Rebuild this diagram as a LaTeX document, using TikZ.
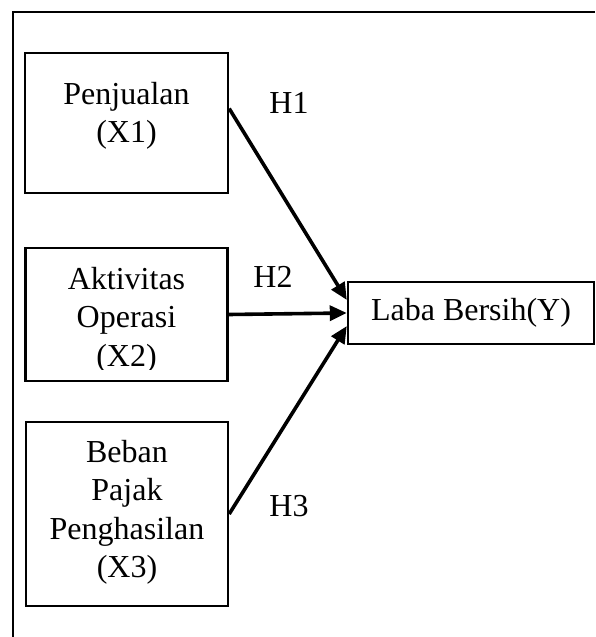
\documentclass[tikz,border=0pt]{standalone}
\usepackage{fontspec}
\setmainfont{Liberation Serif}
\usepackage{tikz}
\usetikzlibrary{positioning, arrows.meta}

\begin{document}
\begin{tikzpicture}[x=1pt,y=-1pt,
   var/.style={draw,line width=2.4pt,rectangle,inner sep=0pt},
   vartext/.style={align=center,inner sep=0pt,font=\fontsize{32}{38.5}\selectfont},
   hyp/.style={inner sep=0pt,font=\fontsize{32}{38.5}\selectfont},
   hpath/.style={line width=3.6pt,-{Triangle[length=17pt,width=15pt]}}]
\useasboundingbox (0,0) rectangle (595,637);
\draw[line width=1.8pt] (595,12) -- (13,12) -- (13,637);
\node[var,minimum width=203pt,minimum height=140pt] (x1) at (126.5,123) {};
\node[var,minimum width=202pt,minimum height=133pt] (x2) at (126.5,314.5) {};
\node[var,minimum width=202pt,minimum height=184pt] (x3) at (127,514) {};
\node[var,minimum width=246pt,minimum height=62pt,font=\fontsize{32}{38.5}\selectfont] (y) at (471,313) {Laba Bersih(Y)};
\node[vartext,below=30pt of x1.north] (x1text) {Penjualan\\(X1)};
\begin{scope}
\clip (0,0) rectangle (595,369);
\node[vartext,below=20pt of x2.north] (x2text) {Aktivitas\\Operasi\\(X2)};
\end{scope}
\node[vartext,below=19pt of x3.north] (x3text) {Beban\\Pajak\\Penghasilan\\(X3)};
\node[hyp] (h1) at (289,103) {H1};
\node[hyp] (h2) at (273,277) {H2};
\node[hyp] (h3) at (289,506) {H3};
\draw[hpath] (x1.8) -- (y.174);
\draw[hpath] (x2.east) -- (y.west);
\draw[hpath] (x3.east) -- (y.186);
\end{tikzpicture}
\end{document}
